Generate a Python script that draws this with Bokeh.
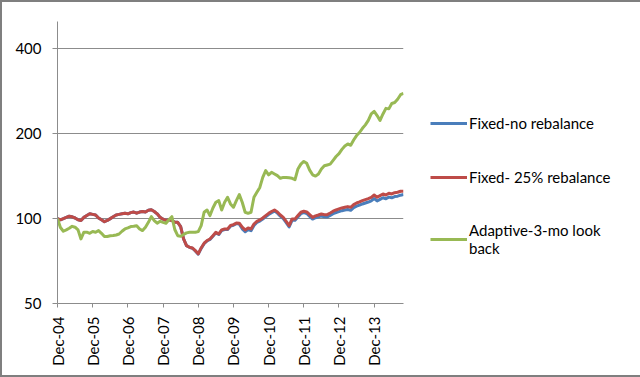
from bokeh.plotting import figure
from bokeh.models import (Range1d, FixedTicker, Legend, LegendItem, InlineStyleSheet)
from bokeh.embed import file_html
from bokeh.resources import INLINE
import math

tick_labels = ["Dec-04", "Dec-05", "Dec-06", "Dec-07", "Dec-08",
               "Dec-09", "Dec-10", "Dec-11", "Dec-12", "Dec-13"]
y_ticks = [50, 100, 200, 400]

fixed_25 = [100, 99, 100, 101, 102, 101.5, 100.5, 99, 98.5, 101, 102.5, 104, 103.5, 103, 100.5, 99,
            97.5, 98.5, 100, 101.5, 103, 103.5, 104, 104.5, 104, 105, 105.5, 104.5, 105.5, 106, 105.5,
            107, 107.5, 106, 104, 101, 99.5, 98.5, 99, 98.5, 97, 97, 93.7, 84.7, 80.2, 79.1, 78.7, 77,
            75, 78.7, 81.8, 83.6, 84.7, 87, 89.4, 88.2, 91.2, 91.9, 91.9, 94.5, 95.2, 96.5, 96.3, 93.2,
            91.2, 92.7, 91.9, 95.7, 97.8, 98.9, 100.5, 102.5, 104.4, 106, 107.3, 105.6, 103, 101, 97.8,
            94.5, 99.7, 99.7, 102.5, 105.3, 106.2, 105.6, 103.3, 101, 102.2, 103, 103.9, 103.3, 103.3,
            104.7, 106.2, 107.3, 108.2, 109.1, 109.7, 110.3, 109.7, 112.1, 113.6, 114.6, 115.8, 116.8,
            117.8, 119, 121.3, 119, 120.6, 122.3, 121.3, 123, 122.3, 123.6, 124, 125, 125]

fixed_no = [100, 99, 100, 101, 102, 101.5, 100.5, 99, 98.5, 101, 102.5, 104, 103.5, 103, 100.5, 99,
            97.5, 98.5, 100, 101.5, 103, 103.5, 104, 104.5, 104, 105, 105.5, 104.5, 105.5, 106, 105.5,
            107, 107.5, 106, 104, 101, 99.5, 98.5, 99, 98.5, 97, 97, 93.7, 84.7, 80.2, 79.1, 78.5, 76.8,
            74.8, 78.4, 81.5, 83.3, 84.3, 86.6, 89, 87.8, 90.8, 91.4, 91.4, 94, 94.7, 96, 95.6, 92,
            89.8, 91.5, 90.6, 94.6, 96.9, 98, 99.6, 101.6, 103.4, 105, 106.3, 104.6, 102, 100, 96.8,
            93.4, 98.6, 98.6, 101.4, 104.1, 105, 104.3, 101.9, 99.6, 100.7, 101.4, 102.2, 101.5, 101.4,
            102.7, 104.1, 105.1, 105.9, 106.7, 107.2, 107.7, 107, 109.3, 110.7, 111.6, 112.7, 113.6,
            114.5, 115.6, 117.8, 115.5, 117, 118.6, 117.6, 119.2, 118.5, 119.7, 120.1, 121.1, 121.7]

adaptive = [100, 93, 90.2, 91.2, 92.4, 93.9, 93.2, 91.2, 84.7, 89.5, 89.5, 88.7, 90, 89.5, 90.7, 88.7,
            86.4, 86.4, 86.9, 87.1, 87.5, 88.2, 90.2, 91.9, 92.7, 93.7, 93.9, 94.4, 91.9, 90.7, 93.2,
            97, 101.6, 98.4, 96.3, 97.8, 97, 96.3, 99, 101.6, 91.5, 87, 86.6, 87.8, 89, 89.4, 89.4,
            89.4, 89.9, 94.4, 105.3, 107.3, 102.5, 109.1, 114.3, 115.8, 107.3, 114.3, 119, 112.7, 109.7,
            115.8, 121.6, 114.3, 105.3, 104.4, 105.3, 119, 124, 129, 140, 148, 143, 146, 144, 142, 139,
            140, 140, 139.5, 139, 137.5, 150, 156, 159.5, 157, 148.6, 143, 141.5, 144, 150, 154, 155,
            156, 161, 166, 170, 176, 181, 184, 182, 190, 197, 202, 209, 215, 223, 235, 240, 232, 223,
            235, 246, 245, 256, 258, 265, 275, 278]

months = list(range(len(adaptive)))

FONT = "Lato"
GRID = "#8c8c8c"

p = figure(frame_width=346, frame_height=282, output_backend="svg", toolbar_location=None,
           y_axis_type="log", x_range=Range1d(0, len(months) - 1), y_range=Range1d(50, 500),
           min_border_left=55, min_border_top=19, min_border_right=235, min_border_bottom=72)
p.stylesheets = [InlineStyleSheet(css=":host { border: 2px solid #7f7f7f; }")]
p.outline_line_color = None
p.background_fill_color = "white"
p.border_fill_color = "white"

p.xgrid.visible = False
p.ygrid.grid_line_color = GRID
p.ygrid.grid_line_width = 1
p.ygrid.ticker = FixedTicker(ticks=y_ticks)

p.yaxis.ticker = FixedTicker(ticks=y_ticks)
p.yaxis.major_label_overrides = {t: str(t) for t in y_ticks}
p.yaxis.minor_tick_line_color = None
p.yaxis.major_tick_out = 5
p.yaxis.major_tick_in = 0
p.yaxis.major_label_standoff = 11
p.yaxis.axis_line_color = GRID
p.yaxis.major_tick_line_color = GRID

xt = [12 * k for k in range(len(tick_labels))]
p.xaxis.ticker = FixedTicker(ticks=xt)
p.xaxis.major_label_overrides = {t: lab for t, lab in zip(xt, tick_labels)}
p.xaxis.major_label_orientation = math.pi / 2
p.xaxis.minor_tick_line_color = None
p.xaxis.major_tick_out = 4
p.xaxis.major_tick_in = 0
p.xaxis.major_label_standoff = 9
p.xaxis.axis_line_color = GRID
p.xaxis.major_tick_line_color = GRID

for ax in (p.xaxis, p.yaxis):
    ax.major_label_text_font = FONT
    ax.major_label_text_font_size = "15px"
    ax.major_label_text_color = "black"

r_blue = p.line(months, fixed_no, line_color="#4A7EBB", line_width=3, line_join="round")
r_red = p.line(months, fixed_25, line_color="#BE4B48", line_width=3, line_join="round")
r_green = p.line(months, adaptive, line_color="#98B954", line_width=3, line_join="round")

legend = Legend(items=[
    LegendItem(label="Fixed-no rebalance", renderers=[r_blue]),
    LegendItem(label="Fixed- 25% rebalance", renderers=[r_red]),
    LegendItem(label="Adaptive-3-mo look\nback", renderers=[r_green]),
], location=(27, 46))
legend.border_line_color = None
legend.background_fill_alpha = 0
legend.label_text_font = FONT
legend.label_text_font_size = "15px"
legend.label_text_color = "black"
legend.glyph_width = 37
legend.glyph_height = 20
legend.label_height = 20
legend.label_standoff = 2
legend.spacing = 34
legend.padding = 0
legend.margin = 0
legend.inactive_fill_alpha = 0
p.add_layout(legend, "right")

open("out.html", "w").write(file_html(p, INLINE))
